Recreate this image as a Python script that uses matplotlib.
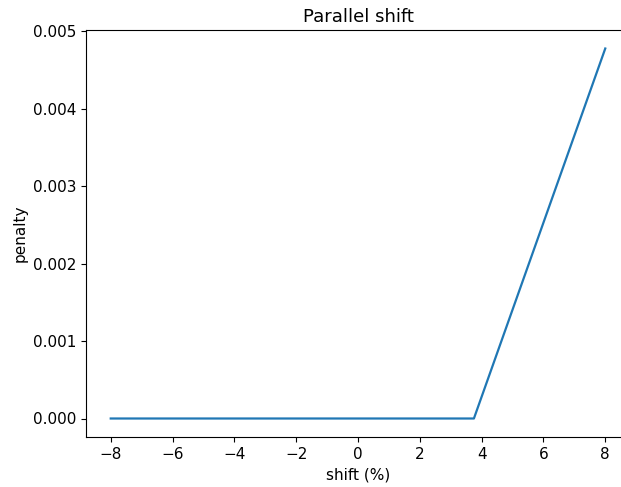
import matplotlib
matplotlib.use("Agg")
import matplotlib.pyplot as plt

shift = [-8.0, 3.75, 8.0]
penalty = [0.0, 0.0, 0.00478]

plt.rcParams["font.size"] = 11
plt.rcParams["axes.titlesize"] = 13

W, H = 621, 487
fig = plt.figure(figsize=(W / 100, H / 100), dpi=100)
ax = fig.add_axes([86 / W, (H - 437) / H, (630 - 86) / W, (437 - 30) / H])
ax.plot(shift, penalty, color="#1f77b4", linewidth=1.6)
ax.set_xlim(-8.8, 8.8)
ax.set_ylim(-0.000239, 0.005019)
ax.set_xticks([-8, -6, -4, -2, 0, 2, 4, 6, 8])
ax.set_yticks([0.0, 0.001, 0.002, 0.003, 0.004, 0.005])
ax.set_xlabel("shift (%)")
ax.set_ylabel("penalty")
ax.set_title("Parallel shift")
fig.savefig("out.png", dpi=100)
